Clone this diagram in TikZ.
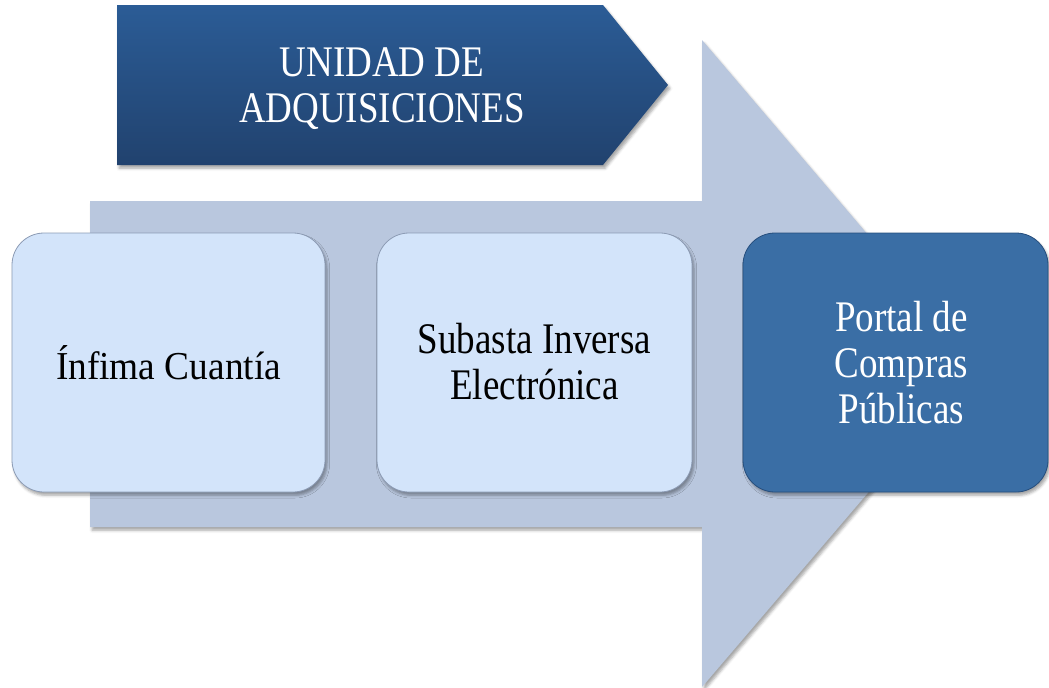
\documentclass[tikz,border=0pt]{standalone}
\usepackage{fontspec}
\setmainfont{Liberation Serif}
\usepackage{graphicx}
\usetikzlibrary{shadows.blur}
\definecolor{arrowc}{RGB}{185,199,222}
\definecolor{lightc}{RGB}{211,228,250}
\definecolor{lightedge}{RGB}{140,155,180}
\definecolor{darkc}{RGB}{58,110,165}
\definecolor{darkedge}{RGB}{38,78,125}
\definecolor{bantop}{RGB}{43,92,150}
\definecolor{banbot}{RGB}{33,66,110}
\newcommand\stretchtext[1]{\scalebox{1}[1.18]{\begin{tabular}{@{}c@{}}#1\end{tabular}}}
\begin{document}
\begin{tikzpicture}[x=0.75pt,y=-0.75pt,
  softshadow/.style={blur shadow={shadow xshift=1.5pt, shadow yshift=-2.5pt, shadow opacity=35, shadow blur radius=2pt}},
  cardbox/.style={rounded corners=24pt, minimum height=194.25pt, inner sep=0pt, line width=0.6pt, softshadow},
  lightbox/.style={cardbox, fill=lightc, draw=lightedge},
  darkbox/.style={cardbox, fill=darkc, draw=darkedge},
  txt/.style={font=\fontsize{27.75pt}{29.25pt}\selectfont, inner sep=0pt},
  bigtxt/.style={font=\fontsize{28pt}{31pt}\selectfont, inner sep=0pt}
]
\useasboundingbox (0,0) rectangle (1049,687);
% big arrow
\fill[arrowc, softshadow] (90,201) -- (702,201) -- (702,40) -- (978,364) -- (702,687) -- (702,527) -- (90,527) -- cycle;
% banner
\shade[top color=bantop, bottom color=banbot, softshadow] (117,5) -- (603,5) -- (668,85) -- (603,165) -- (117,165) -- cycle;
\node[txt, text=white] (banner) at (382,90) {\stretchtext{UNIDAD DE\\ADQUISICIONES}};
% boxes
\node[lightbox, minimum width=234.75pt] (infima) at (168.5,362.5) {};
\node[lightbox, minimum width=236.25pt] (subasta) at (534.5,362.5) {};
\node[darkbox, minimum width=228.75pt] (portal) at (895.5,362.5) {};
% texts
\node[bigtxt, text=black] (infimatext) at (infima.center) {\scalebox{1}[1.06]{Ínfima Cuantía}};
\node[txt, text=black] (subastatext) at ([yshift=-3.75pt]subasta.center) {\stretchtext{Subasta Inversa\\Electrónica}};
\node[txt, text=white] (portaltext) at ([xshift=4.5pt, yshift=-4.5pt]portal.center) {\stretchtext{Portal de\\Compras\\Públicas}};
\end{tikzpicture}
\end{document}
